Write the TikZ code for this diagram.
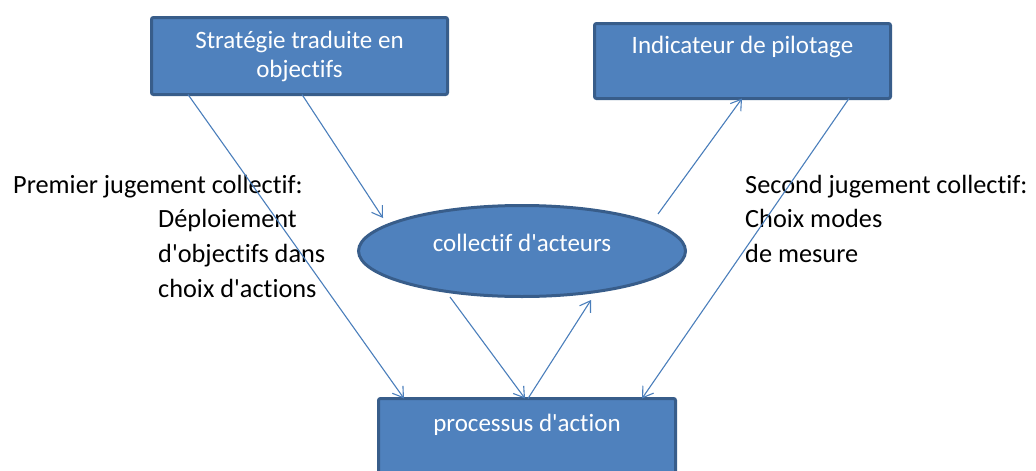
\documentclass[tikz,border=0pt]{standalone}
\usepackage{fontspec}
\setmainfont{Carlito}[Ligatures={TeXOff,NoCommon}]
\usetikzlibrary{arrows.meta,shapes.geometric,calc}
\definecolor{boxfill}{HTML}{4F81BD}
\definecolor{boxline}{HTML}{385D8A}
\definecolor{arrowcol}{HTML}{4A7EBB}
\begin{document}
\begin{tikzpicture}[x=1pt,y=-1pt,
  box/.style={draw=boxline, fill=boxfill, line width=3pt, rounded corners=2pt,
    outer sep=0pt, inner sep=0pt, text=white, font=\fontsize{25}{29}\selectfont},
  oval/.style={ellipse, draw=boxline, fill=boxfill, line width=3pt, outer sep=0pt,
    inner sep=0pt, text=white, font=\fontsize{25}{29}\selectfont},
  conn/.style={draw=arrowcol, line width=1.1pt, -{Straight Barb[length=10pt,width=13pt]}},
  lbl/.style={anchor=base west, inner sep=0pt, font=\fontsize{26.3}{32}\selectfont, text=black}]
\useasboundingbox (0,0) rectangle (1036,471);
% boxes
\node[box, align=center, minimum width=296pt, minimum height=77pt] (b1) at (299.5,56)
  {Stratégie traduite en\\objectifs};
\node[box, minimum width=296pt, minimum height=75pt, text height=17pt, text depth=33pt] (b2) at (742.5,61)
  {Indicateur de pilotage};
\node[box, minimum width=297pt, minimum height=82pt, text height=17pt, text depth=33pt] (b3) at (527,439.5)
  {processus d'action};
\node[oval, minimum width=327pt, minimum height=91pt, text height=17pt, text depth=17pt] (e) at (522,251)
  {collectif d'acteurs};
% labels
\node[lbl] (l1) at (13,193) {Premier jugement collectif:};
\node[lbl] (l2) at (158,227) {Déploiement};
\node[lbl] (l3) at (158,262) {d'objectifs dans};
\node[lbl] (l4) at (158,297) {choix d'actions};
\node[lbl] (r1) at (745,193) {Second jugement collectif:};
\node[lbl] (r2) at (745,227) {Choix modes};
\node[lbl] (r3) at (745,262) {de mesure};
% connectors
\draw[conn] ([xshift=36.5pt]b1.south west) -- ([xshift=25.5pt]b3.north west);
\draw[conn] ([xshift=150.5pt]b1.south west) -- ($(e.center)+(-139,-33)$);
\draw[conn] ($(e.center)+(-72,46)$) -- ([xshift=146.5pt]b3.north west);
\draw[conn] ([xshift=149.5pt]b3.north west) -- ($(e.center)+(69,49)$);
\draw[conn] ($(e.center)+(136,-37)$) -- ([xshift=147.5pt]b2.south west);
\draw[conn] ([xshift=254.5pt]b2.south west) -- ([xshift=263.5pt]b3.north west);
\end{tikzpicture}
\end{document}
